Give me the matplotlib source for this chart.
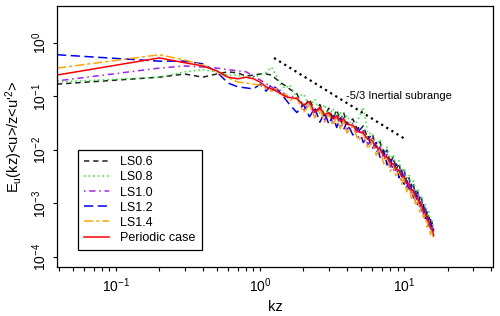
import numpy as np
import matplotlib
matplotlib.use("Agg")
import matplotlib.pyplot as plt
from matplotlib.ticker import LogLocator, NullLocator, NullFormatter

plt.rcParams['font.family'] = ['Liberation Sans', 'DejaVu Sans']
plt.rcParams['mathtext.fontset'] = 'custom'
plt.rcParams['mathtext.rm'] = 'Liberation Sans'
plt.rcParams['mathtext.it'] = 'Liberation Sans:italic'
plt.rcParams['mathtext.bf'] = 'Liberation Sans:bold'

# wavenumber grid (kz)
kz = [0.039, 0.2, 0.3, 0.4, 0.5, 0.6, 0.7, 0.8, 0.9, 1.0,
      1.1, 1.2, 1.3, 1.4, 1.5, 1.6, 1.8, 2.0, 2.2, 2.4,
      2.6, 2.8, 3.0, 3.2, 3.4, 3.6, 3.8, 4.0, 4.4, 4.8,
      5.2, 5.6, 6.0, 6.4, 6.8, 7.2, 7.6, 8.0, 8.4, 8.8,
      9.2, 9.6, 10.0, 10.4, 10.8, 11.2, 11.6, 12.0, 12.4, 12.8,
      13.2, 13.6, 14.0, 14.4, 14.8, 15.2, 15.6, 16.0]

# spectra as log10 values
log_ls06 = [-0.77, -0.64, -0.58, -0.64, -0.58, -0.54, -0.56, -0.62, -0.60, -0.58,
            -0.58, -0.60, -0.68, -0.75, -0.80, -0.86, -0.95, -1.20, -1.05, -1.28,
            -1.15, -1.36, -1.22, -1.42, -1.25, -1.45, -1.30, -1.52, -1.42, -1.66,
            -1.55, -1.80, -1.70, -1.95, -1.85, -2.10, -2.00, -2.25, -2.12, -2.36,
            -2.25, -2.50, -2.38, -2.62, -2.52, -2.75, -2.65, -2.88, -2.78, -3.00,
            -2.90, -3.14, -3.06, -3.28, -3.20, -3.42, -3.36, -3.52]
log_ls08 = [-0.73, -0.64, -0.54, -0.50, -0.54, -0.60, -0.60, -0.65, -0.64, -0.60,
            -0.55, -0.45, -0.62, -0.80, -0.85, -0.78, -1.02, -0.95, -1.20, -1.05,
            -1.32, -1.15, -1.40, -1.22, -1.45, -1.28, -1.50, -1.35, -1.60, -1.42,
            -1.20, -1.70, -1.68, -1.90, -1.80, -2.05, -1.95, -2.20, -2.08, -2.32,
            -2.20, -2.45, -2.34, -2.58, -2.46, -2.70, -2.58, -2.84, -2.72, -2.96,
            -2.86, -3.10, -3.00, -3.24, -3.14, -3.38, -3.30, -3.48]
log_ls10 = [-0.71, -0.47, -0.43, -0.45, -0.47, -0.50, -0.52, -0.54, -0.62, -0.69,
            -0.76, -0.82, -0.90, -0.88, -0.98, -1.00, -1.00, -1.26, -1.12, -1.38,
            -1.22, -1.44, -1.30, -1.50, -1.35, -1.56, -1.40, -1.62, -1.50, -1.76,
            -1.64, -1.90, -1.78, -2.04, -1.94, -2.18, -2.08, -2.32, -2.20, -2.44,
            -2.34, -2.56, -2.44, -2.70, -2.58, -2.82, -2.70, -2.96, -2.84, -3.06,
            -2.96, -3.20, -3.10, -3.34, -3.24, -3.48, -3.40, -3.58]
log_ls12 = [-0.22, -0.34, -0.34, -0.39, -0.54, -0.75, -0.82, -0.84, -0.86, -0.77,
            -0.90, -0.78, -0.85, -0.95, -1.05, -1.15, -1.30, -1.15, -1.38, -1.22,
            -1.48, -1.30, -1.52, -1.36, -1.58, -1.40, -1.62, -1.48, -1.72, -1.58,
            -1.86, -1.74, -1.98, -1.86, -2.14, -2.00, -2.28, -2.15, -2.40, -2.26,
            -2.52, -2.38, -2.64, -2.50, -2.78, -2.64, -2.90, -2.76, -3.02, -2.88,
            -3.14, -3.02, -3.28, -3.16, -3.42, -3.30, -3.52, -3.48]
log_ls14 = [-0.47, -0.22, -0.32, -0.41, -0.54, -0.65, -0.73, -0.75, -0.77, -0.79,
            -0.85, -0.90, -0.85, -1.00, -0.95, -1.08, -1.02, -1.30, -1.15, -1.40,
            -1.22, -1.48, -1.32, -1.54, -1.38, -1.60, -1.44, -1.68, -1.56, -1.82,
            -1.70, -1.98, -1.84, -2.10, -1.98, -2.26, -2.12, -2.40, -2.26, -2.50,
            -2.38, -2.64, -2.50, -2.78, -2.64, -2.90, -2.78, -3.04, -2.90, -3.16,
            -3.04, -3.30, -3.18, -3.44, -3.32, -3.58, -3.50, -3.66]
log_periodic = [-0.60, -0.28, -0.37, -0.43, -0.52, -0.64, -0.67, -0.64, -0.67, -0.73,
                -0.82, -0.86, -0.90, -0.95, -1.00, -1.02, -1.04, -1.16, -1.10, -1.30,
                -1.20, -1.34, -1.30, -1.42, -1.36, -1.46, -1.42, -1.52, -1.54, -1.66,
                -1.68, -1.80, -1.82, -1.95, -1.98, -2.11, -2.13, -2.24, -2.26, -2.36,
                -2.38, -2.49, -2.50, -2.63, -2.64, -2.75, -2.77, -2.88, -2.90, -3.00,
                -3.03, -3.15, -3.18, -3.30, -3.33, -3.45, -3.48, -3.60]

labels = ["LS0.6", "LS0.8", "LS1.0", "LS1.2", "LS1.4", "Periodic case"]
colors = ["#222222", "#22ee22", "#a020f0", "#0000ff", "#ffa500", "#ff0000"]
dashes = [(3.5, 2.5), (1, 2), (1, 2.5, 4, 2.5), (6, 3), (6, 2, 2, 2), None]
series = [log_ls06, log_ls08, log_ls10, log_ls12, log_ls14, log_periodic]

# -5/3 reference line
inertial_kz = np.array([1.25, 10.0])
inertial_c = 0.76

fig = plt.figure(figsize=(5, 3.16), dpi=100)
ax = fig.add_axes([0.114, 0.155, 0.872, 0.826])

for lab, col, d, s in zip(labels, colors, dashes, series):
    y = 10 ** np.array(s)
    if d is None:
        ax.plot(kz, y, color=col, lw=1.1, label=lab)
    else:
        ax.plot(kz, y, color=col, lw=1.1, dashes=d, label=lab)

ax.plot(inertial_kz, inertial_c * inertial_kz ** (-5 / 3), color="black",
        lw=1.6, linestyle=(0, (1, 1.7)))
ax.text(3.96, 0.102, "-5/3 Inertial subrange", fontsize=8, ha="left", va="center")

ax.set_xscale("log")
ax.set_yscale("log")
ax.set_xlim(0.039, 41.3)
ax.set_ylim(6.5e-5, 4.9)

ax.xaxis.set_major_locator(LogLocator(base=10, numticks=10))
ax.xaxis.set_minor_locator(LogLocator(base=10, subs=np.arange(2, 10), numticks=20))
ax.xaxis.set_minor_formatter(NullFormatter())
ax.yaxis.set_major_locator(LogLocator(base=10, numticks=10))
ax.yaxis.set_minor_locator(NullLocator())

ax.tick_params(which="both", direction="out", length=3, width=0.8, labelsize=10)
ax.tick_params(axis="y", pad=3)
for t in ax.get_yticklabels():
    t.set_rotation(90)
    t.set_va("center")
for sp in ax.spines.values():
    sp.set_linewidth(0.9)

ax.set_xlabel("kz", fontsize=10.5, labelpad=4)
ax.set_ylabel(r"E$_\mathregular{u}$(kz)<u>/z<u'$^\mathregular{2}$>", fontsize=10.5, labelpad=4)

leg = ax.legend(loc="upper left", bbox_to_anchor=(0.048, 0.448), borderaxespad=0,
                fontsize=9, fancybox=False, framealpha=1, edgecolor="black",
                handlelength=2.0, handletextpad=0.9, labelspacing=0.25, borderpad=0.5)
leg.get_frame().set_linewidth(0.9)

fig.savefig("out.png", dpi=100)
